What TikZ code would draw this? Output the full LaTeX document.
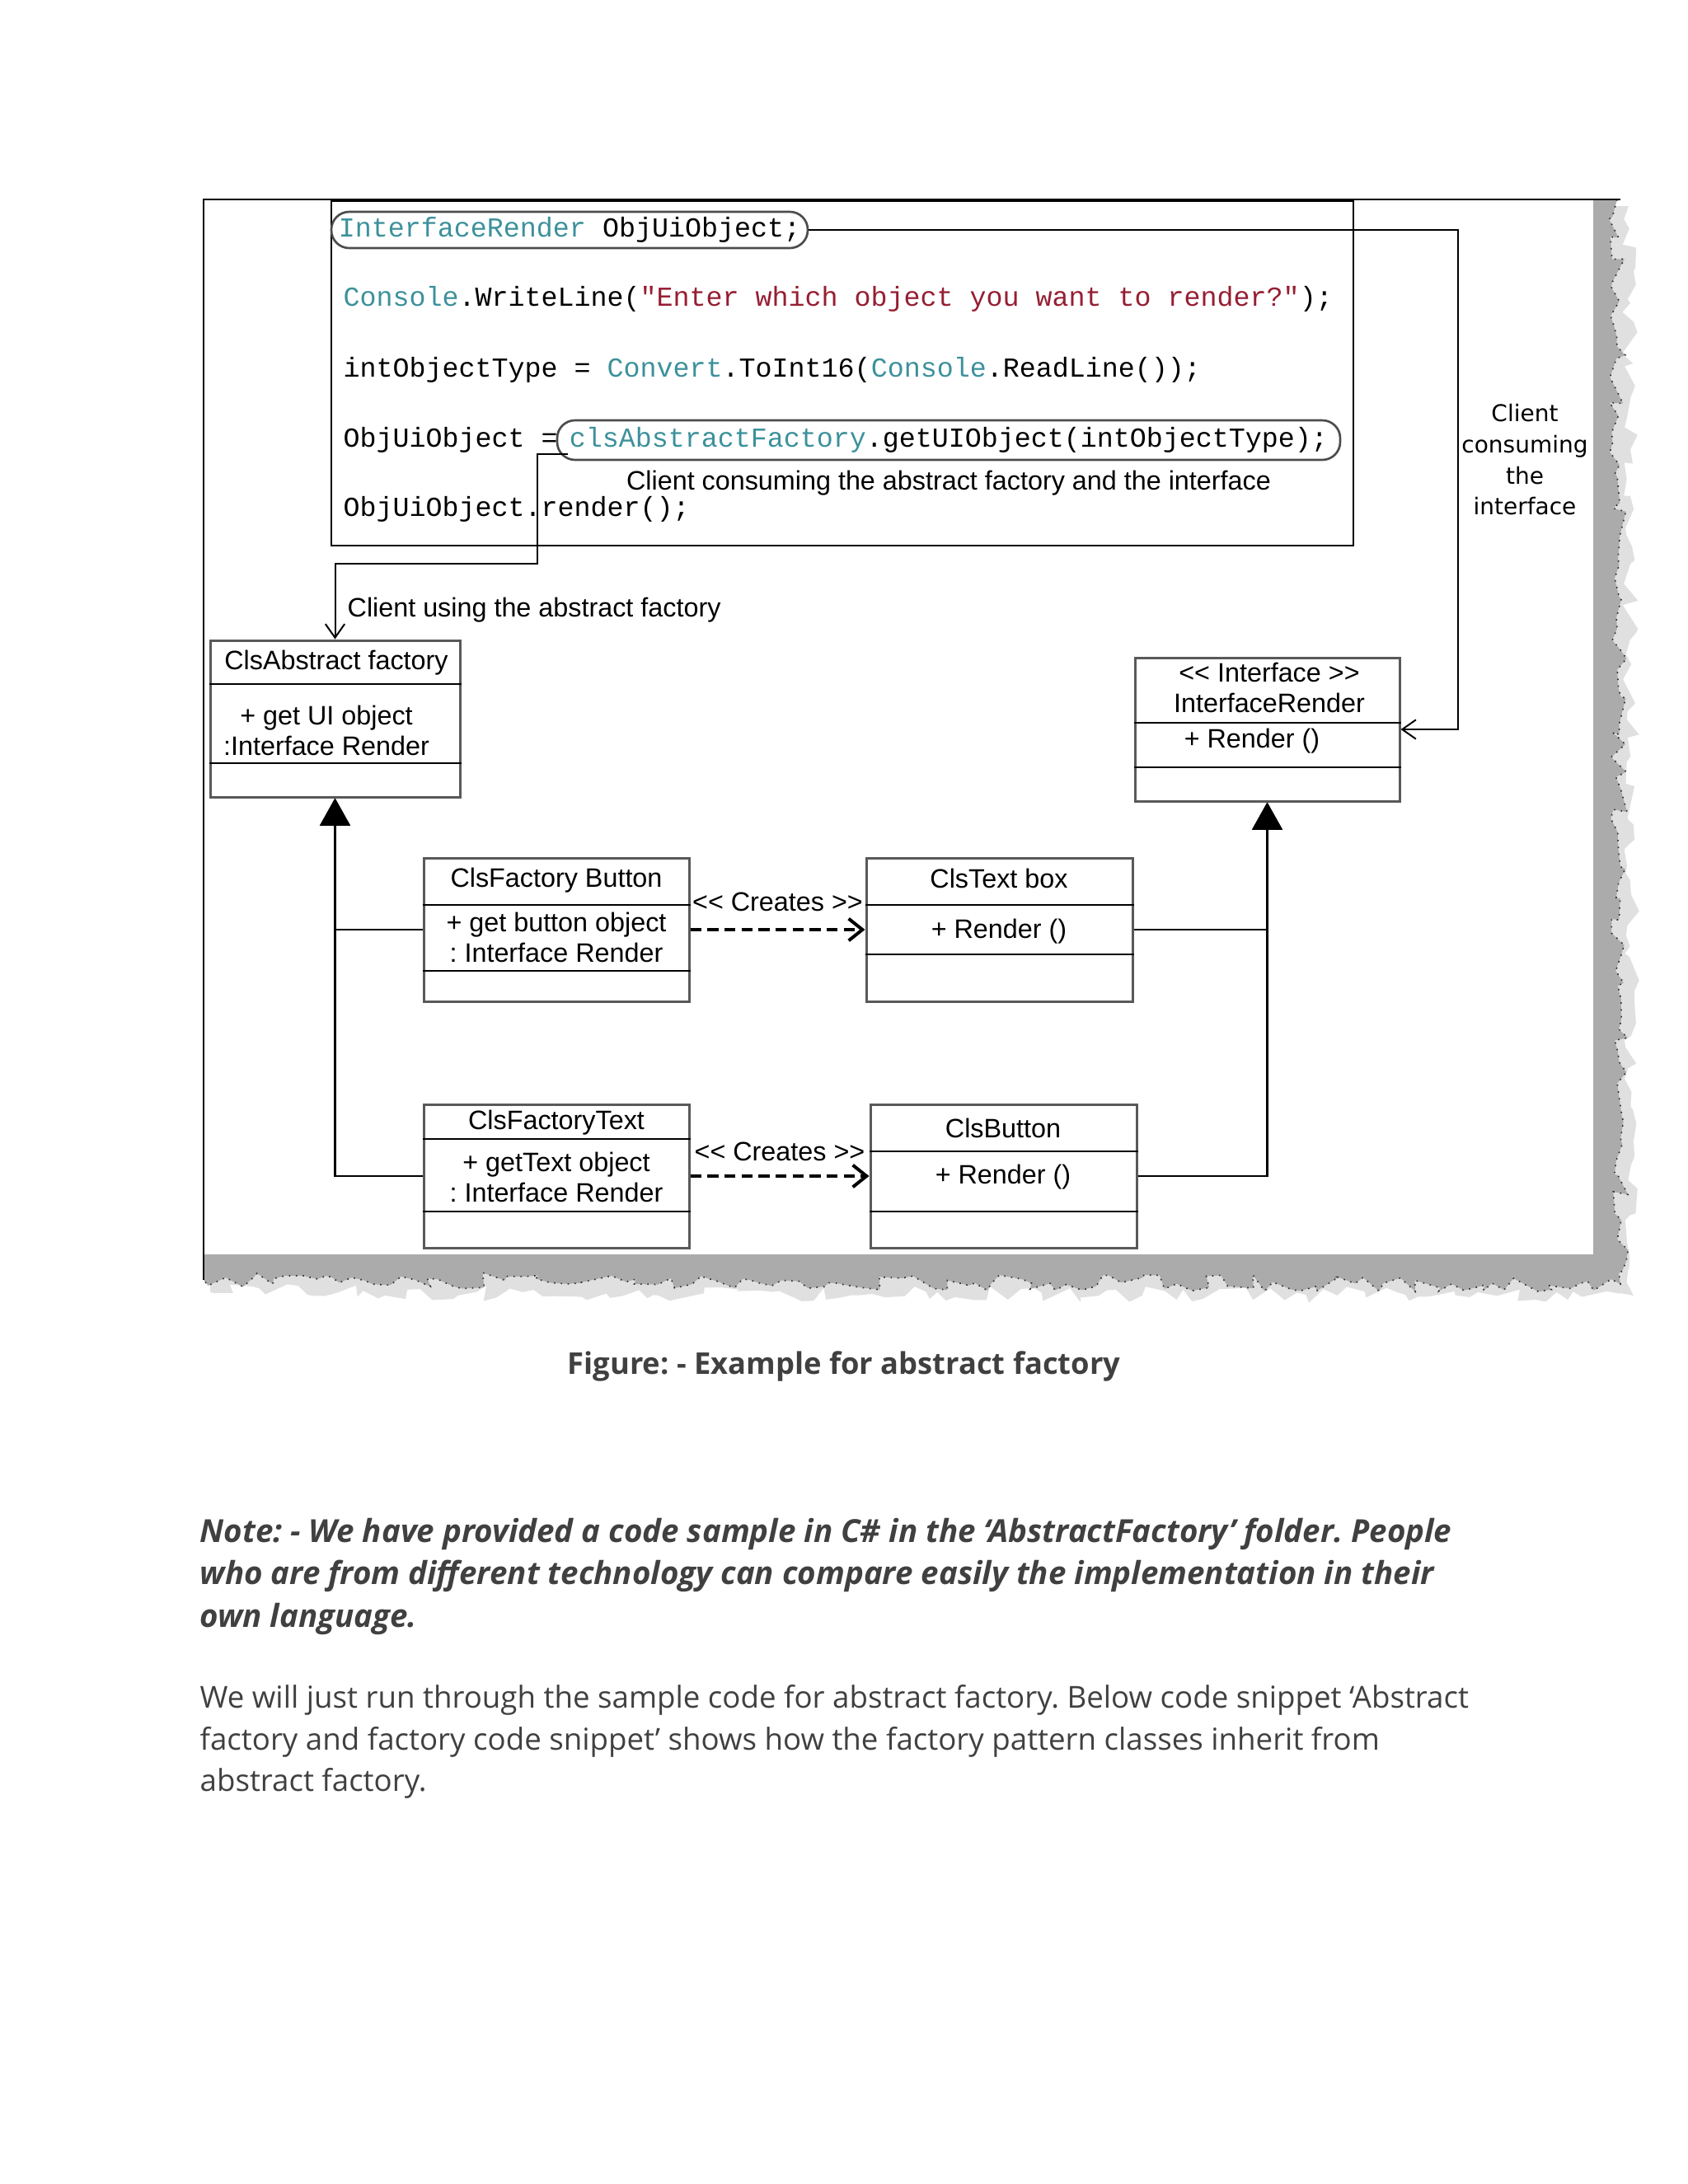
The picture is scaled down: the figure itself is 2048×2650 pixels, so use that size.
\documentclass[tikz,border=0pt]{standalone}
\usepackage{fontspec}
\setmainfont{Open Sans}
\newfontfamily\umlfont{Liberation Sans}
\newfontfamily\codefont{Liberation Mono}
\newfontfamily\sidefont{DejaVu Sans}
\usetikzlibrary{arrows.meta,calc,decorations.pathmorphing}
\definecolor{typeclr}{RGB}{60,145,155}
\definecolor{strclr}{RGB}{150,30,50}
\definecolor{bodytxt}{RGB}{64,64,64}
\newcommand{\tp}[1]{\textcolor{typeclr}{#1}}
\newcommand{\strlit}[1]{\textcolor{strclr}{#1}}
\frenchspacing
\begin{document}
\begin{tikzpicture}[x=0.3pt, y=-0.3pt,
    cls/.style={draw=black!65, line width=0.9pt, fill=white, inner sep=0pt},
    sep/.style={line width=0.6pt},
    umltxt/.style={font=\umlfont\fontsize{9.7}{11.1}\selectfont, inner sep=0pt, align=center},
    code/.style={font=\codefont\fontsize{10}{12}\selectfont, anchor=west, inner sep=0pt, text height=7pt, text depth=2pt},
    oval/.style={draw=black!70, line width=0.8pt, rounded corners=6.5pt},
    cli/.style={-{Straight Barb[length=5pt,width=7pt]}, line width=0.6pt},
    inh/.style={-{Triangle[width=11pt,length=10pt]}, line width=0.7pt},
    dep/.style={-{Straight Barb[length=5pt,width=8pt,line width=1.2pt]}, line width=1.1pt, dash pattern=on 4pt off 2.2pt},
    para/.style={anchor=base west, inner sep=0pt, text=bodytxt, font=\fontsize{11}{15}\selectfont},
    notetxt/.style={para, font=\bfseries\itshape\fontsize{11.55}{15}\selectfont},
    torn/.style={decoration={random steps, segment length=4pt, amplitude=3pt}}]
  \useasboundingbox (0,0) rectangle (2048,2650);
  % torn screenshot frame
  \pgfmathsetseed{42}
  \fill[black!12, torn] (1940,250) -- (1976,250) decorate {-- (1982,1572) -- (255,1568)} -- (255,1530) -- (1940,1530) -- cycle;
  \pgfmathsetseed{17}
  \fill[black!33, torn] (1933,242) -- (1962,242) decorate {-- (1966,1558) -- (247,1553)} -- (247,1522) -- (1933,1522) -- cycle;
  \pgfmathsetseed{17}
  \draw[black!80, line width=0.5pt, dotted, torn] (1962,242) decorate {-- (1966,1558) -- (247,1553)};
  \draw[line width=0.7pt] (1966,242) -- (247,242) -- (247,1553);
  % code
  \node[draw, line width=0.8pt, minimum width=372pt, minimum height=125.4pt, inner sep=0pt] (codebox) at (1022,453) {};
  \node[code, oval, anchor=center, minimum width=173.4pt, minimum height=13.2pt, inner sep=0pt] (decl) at (691,279) {\tp{InterfaceRender} ObjUiObject;};
  \node[code] (ln2) at (416,363) {\tp{Console}.WriteLine(\strlit{"Enter which object you want to render?"});};
  \node[code] (ln3) at (416,449) {intObjectType = \tp{Convert}.ToInt16(\tp{Console}.ReadLine());};
  \node[code] (ln4) at (416,534) {ObjUiObject =};
  \node[code, oval, anchor=center, minimum width=285pt, minimum height=14.4pt, inner sep=0pt] (getcall) at (1151,534) {\tp{clsAbstractFactory}.getUIObject(intObjectType);};
  \node[code] (ln5) at (416,618) {ObjUiObject.render();};
  \node[umltxt] (lblfac) at (1151,586) {Client consuming the abstract factory and the interface};
  \node[umltxt, anchor=west] (lbluse) at (421,740) {Client using the abstract factory};
  \node[font=\sidefont\fontsize{8.4}{11.3}\selectfont, align=center, inner sep=0pt] (lblint) at (1850,558) {Client\\consuming\\the\\interface};
  % classes
  \node[cls, minimum width=90.9pt, minimum height=57pt] (absf) at (406.5,872) {};
  \draw[sep] (absf.west |- 0,830) -- (absf.east |- 0,830);
  \draw[sep] (absf.west |- 0,926) -- (absf.east |- 0,926);
  \node[umltxt] (absf-n) at (408,804) {ClsAbstract factory};
  \node[umltxt] (absf-m) at (396,886) {+ get UI object\\:Interface Render};
  \node[cls, minimum width=96.3pt, minimum height=52.2pt] (iface) at (1537.5,885) {};
  \draw[sep] (iface.west |- 0,877) -- (iface.east |- 0,877);
  \draw[sep] (iface.west |- 0,931) -- (iface.east |- 0,931);
  \node[umltxt] (iface-n) at (1540,834) {<{}< Interface >{}>\\InterfaceRender};
  \node[umltxt] (iface-m) at (1519,899) {+ Render ()};
  \node[cls, minimum width=96.6pt, minimum height=52.2pt] (fbtn) at (675,1128) {};
  \draw[sep] (fbtn.west |- 0,1098) -- (fbtn.east |- 0,1098);
  \draw[sep] (fbtn.west |- 0,1178) -- (fbtn.east |- 0,1178);
  \node[umltxt] (fbtn-n) at (675,1068) {ClsFactory Button};
  \node[umltxt] (fbtn-m) at (675,1137.5) {+ get button object\\: Interface Render};
  \node[cls, minimum width=96.9pt, minimum height=52.2pt] (tbox) at (1212.5,1128) {};
  \draw[sep] (tbox.west |- 0,1098) -- (tbox.east |- 0,1098);
  \draw[sep] (tbox.west |- 0,1158) -- (tbox.east |- 0,1158);
  \node[umltxt] (tbox-n) at (1212,1066) {ClsText box};
  \node[umltxt] (tbox-m) at (1212,1130) {+ Render ()};
  \node[cls, minimum width=96.6pt, minimum height=52.2pt] (ftxt) at (675,1427) {};
  \draw[sep] (ftxt.west |- 0,1382) -- (ftxt.east |- 0,1382);
  \draw[sep] (ftxt.west |- 0,1470) -- (ftxt.east |- 0,1470);
  \node[umltxt] (ftxt-n) at (675,1362) {ClsFactoryText};
  \node[umltxt] (ftxt-m) at (675,1428.5) {+ getText object\\: Interface Render};
  \node[cls, minimum width=96.9pt, minimum height=52.2pt] (cbtn) at (1217.5,1427) {};
  \draw[sep] (cbtn.west |- 0,1397) -- (cbtn.east |- 0,1397);
  \draw[sep] (cbtn.west |- 0,1470) -- (cbtn.east |- 0,1470);
  \node[umltxt] (cbtn-n) at (1217,1369) {ClsButton};
  \node[umltxt] (cbtn-m) at (1217,1428) {+ Render ()};
  % connectors
  \coordinate (cstart) at ($(getcall.south west)+(14,-8)$);
  \coordinate (cbend) at (652,684);
  \coordinate (ibend) at (1769,279);
  \draw[cli] (cstart) -| (cbend) -| (absf.north);
  \draw[cli] (decl.east) -- (ibend) |- (iface.east);
  \draw[dep] (fbtn.east) -- node[umltxt, above=6pt] (cr1) {<{}< Creates >{}>} (tbox.west);
  \draw[dep] (ftxt.east) -- node[umltxt, above=5pt] (cr2) {<{}< Creates >{}>} (cbtn.west);
  \draw[inh] (fbtn.west) -| (absf.south);
  \draw[inh] (ftxt.west) -| (absf.south);
  \draw[inh] (tbox.east) -| (iface.south);
  \draw[inh] (cbtn.east) -| (iface.south);
  % caption and text
  \node[font=\bfseries\fontsize{10.9}{13}\selectfont, text=bodytxt, inner sep=0pt] (caption) at (1024,1658) {Figure: - Example for abstract factory};
  \node[notetxt] (note1) at (242,1871) {Note: - We have provided a code sample in C\# in the ‘AbstractFactory’ folder. People};
  \node[notetxt] (note2) at (242,1922) {who are from different technology can compare easily the implementation in their};
  \node[notetxt] (note3) at (242,1974) {own language.};
  \node[para] (body1) at (242,2072) {We will just run through the sample code for abstract factory. Below code snippet ‘Abstract};
  \node[para] (body2) at (242,2123) {factory and factory code snippet’ shows how the factory pattern classes inherit from};
  \node[para] (body3) at (242,2173) {abstract factory.};
\end{tikzpicture}
\end{document}
